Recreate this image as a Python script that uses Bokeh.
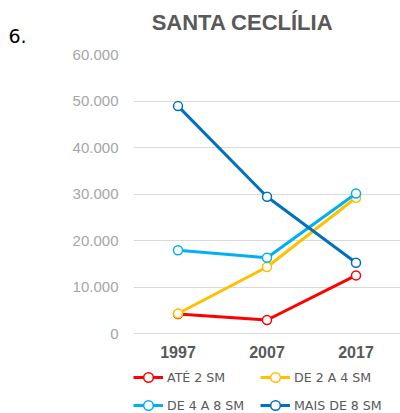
from bokeh.plotting import figure
from bokeh.models import FactorRange, Range1d, FixedTicker, Legend, LegendItem, Label
from bokeh.embed import file_html
from bokeh.resources import INLINE

years = ["1997", "2007", "2017"]
ate_2 = [4200, 2900, 12500]
de_2_4 = [4300, 14300, 29200]
de_4_8 = [17900, 16300, 30100]
mais_8 = [48900, 29400, 15200]
series_names = ["ATÉ 2 SM", "DE 2 A 4 SM", "DE 4 A 8 SM", "MAIS DE 8 SM"]
series_colors = ["#ff0000", "#ffc000", "#00b0f0", "#0070c0"]
y_ticks = [0, 10000, 20000, 30000, 40000, 50000, 60000]
y_tick_labels = ["0", "10.000", "20.000", "30.000", "40.000", "50.000", "60.000"]

# layout geometry (pixels): frame top 54, value 0 at 333, canvas bottom 413
H, TOP, ZERO_PX = 413, 54, 333
y_max = y_ticks[-1]
y_min = -(H - ZERO_PX) * y_max / (ZERO_PX - TOP)

p = figure(width=400, height=H, x_range=FactorRange(factors=years),
           y_range=Range1d(y_min, y_max), output_backend="svg", toolbar_location=None,
           min_border_left=133, min_border_right=0, min_border_top=TOP, min_border_bottom=0)
p.outline_line_color = None
p.xgrid.grid_line_color = None
p.ygrid.grid_line_color = "#d9d9d9"
p.ygrid.grid_line_width = 1

p.yaxis.ticker = FixedTicker(ticks=y_ticks)
p.yaxis.major_label_overrides = {t: l for t, l in zip(y_ticks, y_tick_labels)}
for ax in (p.xaxis, p.yaxis):
    ax.axis_line_color = None
    ax.major_tick_line_color = None
    ax.minor_tick_line_color = None
    ax.major_tick_in = 0
    ax.major_tick_out = 0
p.yaxis.major_label_text_font = "Liberation Sans"
p.yaxis.major_label_text_font_size = "15px"
p.yaxis.major_label_text_color = "#a6a6a6"
p.yaxis.major_label_standoff = 15
p.xaxis.fixed_location = 0
p.xaxis.major_label_text_font = "Liberation Sans"
p.xaxis.major_label_text_font_size = "16px"
p.xaxis.major_label_text_font_style = "bold"
p.xaxis.major_label_text_color = "#595959"
p.xaxis.major_label_standoff = 12

items = []
for vals, name, col in zip([ate_2, de_2_4, de_4_8, mais_8], series_names, series_colors):
    lr = p.line(years, vals, line_color=col, line_width=3)
    sr = p.scatter(years, vals, size=9, fill_color="white", line_color=col, line_width=1.5)
    items.append(LegendItem(label=name, renderers=[lr, sr]))

legend_style = dict(orientation="horizontal", margin=0, padding=0, spacing=12,
                    border_line_color=None, background_fill_alpha=0,
                    glyph_width=30, glyph_height=24, label_height=24,
                    label_width=81, label_standoff=4, label_text_font="DejaVu Sans",
                    label_text_font_size="12.6px", label_text_color="#595959")
p.add_layout(Legend(items=items[:2], location=(0, 24), **legend_style))
p.add_layout(Legend(items=items[2:], location=(0, -4), **legend_style))

p.add_layout(Label(x=-125, y=19, x_units="screen", y_units="screen", text="6.",
                   text_font="DejaVu Sans", text_font_size="19px",
                   text_color="#000000", text_align="left", text_baseline="middle"), "above")
p.add_layout(Label(x=109, y=18, x_units="screen", y_units="screen", text="SANTA CECLÍLIA",
                   text_font="Liberation Sans", text_font_size="22px", text_font_style="bold",
                   text_color="#595959", text_align="center", text_baseline="middle"), "above")

open("out.html", "w").write(file_html(p, INLINE))
